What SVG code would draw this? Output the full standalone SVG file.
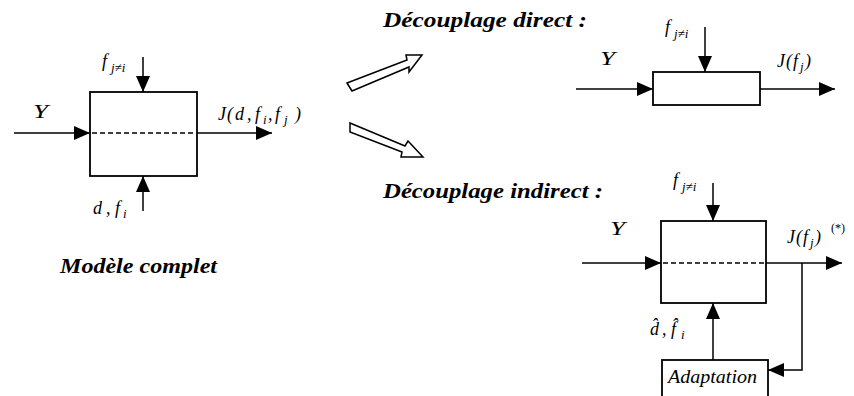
<svg xmlns="http://www.w3.org/2000/svg" width="854" height="396" viewBox="0 0 854 396">
<style>
.t{font-family:"Liberation Serif","Times New Roman",serif;font-style:italic;font-size:18px;fill:#000}
.s{font-size:13px}
.h{font-family:"Liberation Serif","Times New Roman",serif;font-style:italic;font-weight:bold;font-size:22px;fill:#000}
.box{fill:#fff;stroke:#000;stroke-width:1.8}
.ar{fill:none;stroke:#000;stroke-width:1.5;marker-end:url(#ah)}
.da{fill:none;stroke:#000;stroke-width:1.5;stroke-dasharray:5,3}
.hol{fill:#fff;stroke:#000;stroke-width:1.5;stroke-linejoin:miter}
</style>
<defs>
<marker id="ah" markerUnits="userSpaceOnUse" markerWidth="16" markerHeight="14" refX="16" refY="7" orient="auto">
<path d="M0,0 L16,7 L0,14 z" fill="#000"/>
</marker>
</defs>

<g id="titles">
<text class="h" x="383" y="27" textLength="204" lengthAdjust="spacingAndGlyphs">Découplage direct :</text>
<text class="h" x="383" y="198" textLength="220" lengthAdjust="spacingAndGlyphs">Découplage indirect :</text>
<text class="h" x="60" y="273" textLength="157" lengthAdjust="spacingAndGlyphs">Modèle complet</text>
</g>

<g id="big-arrows">
<polygon class="hol" points="347,83 407,60 406,55 422,55 409,72 409,67 352,91"/>
<polygon class="hol" points="350,123 405,146 408,141 423,157 401,157 402,152 350,132"/>
</g>

<g id="model-complet">
<rect class="box" x="90" y="92" width="107" height="84"/>
<line class="da" x1="92" y1="133" x2="195" y2="133"/>
</g>

<g id="model-direct">
<rect class="box" x="653" y="72" width="107" height="33"/>
</g>

<g id="model-indirect">
<rect class="box" x="661" y="221" width="105" height="82"/>
<line class="da" x1="663" y1="263" x2="764" y2="263"/>
</g>

<g id="adaptation">
<rect class="box" x="662" y="360" width="106" height="45"/>
<text class="t" x="668" y="383" textLength="89" lengthAdjust="spacingAndGlyphs" style="font-size:19px">Adaptation</text>
</g>

<g id="connectors">
<line class="ar" x1="14" y1="133" x2="90" y2="133"/>
<line class="ar" x1="197" y1="133" x2="272" y2="133"/>
<line class="ar" x1="143" y1="57" x2="143" y2="92"/>
<line class="ar" x1="143" y1="211" x2="143" y2="176"/>

<line class="ar" x1="576" y1="89" x2="653" y2="89"/>
<line class="ar" x1="760" y1="89" x2="835" y2="89"/>
<line class="ar" x1="705" y1="27" x2="705" y2="72"/>

<line class="ar" x1="582" y1="263" x2="661" y2="263"/>
<line class="ar" x1="766" y1="263" x2="842" y2="263"/>
<polyline class="ar" points="802,263 802,370 768,370"/>
<line class="ar" x1="713" y1="360" x2="713" y2="303"/>
<line class="ar" x1="713" y1="183" x2="713" y2="221"/>
</g>

<g id="labels">
<text class="t" x="102" y="67">f<tspan class="s" x="111" y="72">j≠i</tspan></text>
<text class="t" x="33" y="118" textLength="15" lengthAdjust="spacingAndGlyphs">Y</text>
<text class="t" y="120"><tspan x="218">J</tspan><tspan x="227">(</tspan><tspan x="235">d</tspan><tspan x="247">,</tspan><tspan x="255">f</tspan><tspan class="s" x="263" y="124">i</tspan><tspan x="268" y="120">,</tspan><tspan x="275">f</tspan><tspan class="s" x="284" y="124">j</tspan><tspan x="295" y="120">)</tspan></text>
<text class="t" y="214"><tspan x="93">d</tspan><tspan x="106">,</tspan><tspan x="115">f</tspan><tspan class="s" x="123" y="218">i</tspan></text>

<text class="t" x="665" y="33">f<tspan class="s" x="674" y="38">j≠i</tspan></text>
<text class="t" x="600" y="65" textLength="15" lengthAdjust="spacingAndGlyphs">Y</text>
<text class="t" y="67"><tspan x="777">J</tspan><tspan x="786">(</tspan><tspan x="793">f</tspan><tspan class="s" x="800" y="71">j</tspan><tspan x="805" y="67">)</tspan></text>

<text class="t" x="673" y="186">f<tspan class="s" x="682" y="191">j≠i</tspan></text>
<text class="t" x="610" y="235" textLength="15" lengthAdjust="spacingAndGlyphs">Y</text>
<text class="t" y="243"><tspan x="787">J</tspan><tspan x="796">(</tspan><tspan x="803">f</tspan><tspan class="s" x="810" y="247">j</tspan><tspan x="815" y="243">)</tspan></text>
<text class="t" x="831" y="232" style="font-size:12px;font-style:normal">(*)</text>
<text class="t" y="335"><tspan x="650">d̂</tspan><tspan x="662">,</tspan><tspan x="671">f̂</tspan><tspan class="s" x="681" y="339">i</tspan></text>
</g>
</svg>
